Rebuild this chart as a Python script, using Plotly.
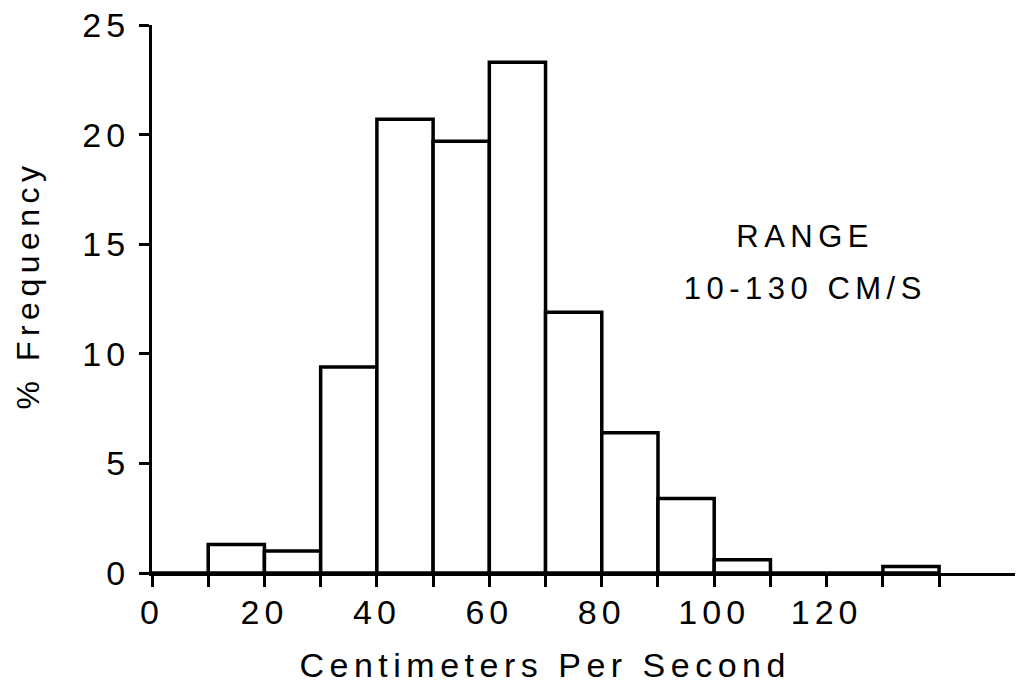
import plotly.graph_objects as go

# Histogram of speeds, 10 cm/s bins
bin_left = [0, 10, 20, 30, 40, 50, 60, 70, 80, 90, 100, 110, 120, 130]
pct_freq = [0.0, 1.3, 1.0, 9.4, 20.7, 19.7, 23.3, 11.9, 6.4, 3.4, 0.6, 0.0, 0.0, 0.3]
bin_width = 10

x_tick_vals = list(range(0, 150, 10))
x_tick_text = ["0", "", "20", "", "40", "", "60", "", "80", "", "100", "", "120", "", ""]
y_tick_vals = [0, 5, 10, 15, 20, 25]

FONT = "Liberation Sans, Arial, Helvetica, sans-serif"
INK = "#000000"

fig = go.Figure()
fig.add_trace(go.Bar(
    x=[b + bin_width / 2 for b in bin_left],
    y=pct_freq,
    width=bin_width,
    marker=dict(color="white", line=dict(color=INK, width=3.5)),
    hoverinfo="skip",
))

fig.update_layout(
    width=1021, height=689,
    margin=dict(l=152, r=6, t=23, b=116),
    paper_bgcolor="white", plot_bgcolor="white",
    showlegend=False,
    font=dict(family=FONT, color=INK),
    xaxis=dict(
        range=[0, 153.5], showgrid=False, zeroline=False,
        showline=True, linecolor=INK, linewidth=3,
        ticks="outside", ticklen=11, tickwidth=2.5, tickcolor=INK,
        tickvals=x_tick_vals, ticktext=x_tick_text,
        tickfont=dict(size=34, family=FONT, color=INK),
        ticklabelstandoff=-4,
    ),
    yaxis=dict(
        range=[0, 25], showgrid=False, zeroline=False,
        showline=True, linecolor=INK, linewidth=3,
        ticks="outside", ticklen=10, tickwidth=2.5, tickcolor=INK,
        tickvals=y_tick_vals,
        tickfont=dict(size=34, family=FONT, color=INK),
        ticklabelstandoff=2,
    ),
    annotations=[
        dict(text="Centimeters Per Second", xref="paper", yref="paper",
             x=0.4554, y=-0.167, xanchor="center", yanchor="middle",
             showarrow=False, font=dict(size=34, family=FONT, color=INK)),
        dict(text="% Frequency", xref="paper", yref="paper",
             x=-0.1437, y=0.527, xanchor="center", yanchor="middle",
             textangle=-90, showarrow=False,
             font=dict(size=32, family=FONT, color=INK)),
        dict(text="RANGE", xref="x", yref="y", x=116.2, y=15.36,
             xanchor="center", yanchor="middle", showarrow=False,
             font=dict(size=31, family=FONT, color=INK)),
        dict(text="10-130 CM/S", xref="x", yref="y", x=116.2, y=13.0,
             xanchor="center", yanchor="middle", showarrow=False,
             font=dict(size=31, family=FONT, color=INK)),
    ],
)

# Widen the letter spacing of all text to the typewriter-like look
spacing_js = """
var gd = document.getElementById('{plot_id}');
function spread() {
  gd.querySelectorAll('.xtick text, .ytick text').forEach(function (t) { t.style.letterSpacing = '5px'; });
  gd.querySelectorAll('.annotation-text').forEach(function (t) { t.style.letterSpacing = '5.5px'; });
}
spread();
"""

fig.write_html("out.html", post_script=spacing_js)
